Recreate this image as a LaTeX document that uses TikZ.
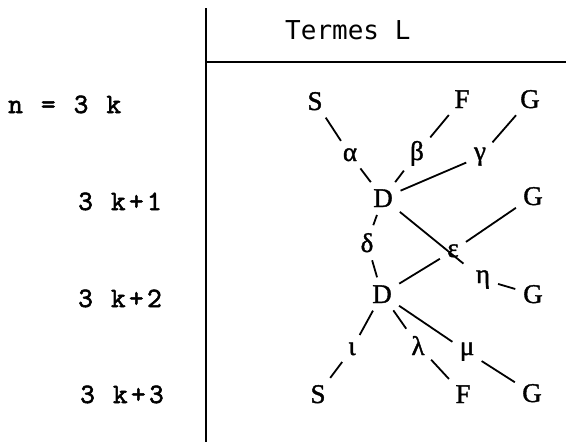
\documentclass[tikz,border=0pt]{standalone}
\usepackage{fontspec}
\setmainfont{Liberation Serif}
\newfontfamily\headfont{DejaVu Sans Mono}
\newfontfamily\labfont[LetterSpace=12,FakeBold=2]{lmmono10-regular.otf}
\begin{document}
\begin{tikzpicture}[x=1pt,y=-1pt,
  vtx/.style={font=\fontsize{27}{27}\selectfont\addfontfeature{FakeBold=1.4}, inner sep=3pt, anchor=base},
  gk/.style={font=\fontsize{27}{27}\selectfont\addfontfeature{FakeBold=1.4}, inner sep=3pt, anchor=base},
  rowlab/.style={font=\labfont\fontsize{28}{28}\selectfont, anchor=base west, inner sep=0pt},
  conn/.style={line width=1.8pt, shorten <=5pt, shorten >=5pt},
  rule/.style={line width=1.8pt}]
\useasboundingbox (0,0) rectangle (566,442);
% table rules
\coordinate (vtop) at (206,8);
\coordinate (vbot) at (206,442);
\coordinate (hl) at (206,62);
\coordinate (hr) at (566,62);
\draw[rule] (vtop) -- (vbot);
\draw[line width=1.4pt] (hl) -- (hr);
\node[font=\headfont\fontsize{26}{26}\selectfont, anchor=base west, inner sep=0pt] (head) at (285,39) {Termes L};
% row labels
\node[rowlab] (r0) at (8,113) {n = 3 k};
\node[rowlab] (r1) at (78,210) {3 k+1};
\node[rowlab] (r2) at (78,307) {3 k+2};
\node[rowlab] (r3) at (80,403) {3 k+3};
% vertices
\node[vtx] (S1) at (315,110) {S};
\node[vtx] (F1) at (462,108) {F};
\node[vtx] (G1) at (530,108) {G};
\node[vtx] (D1) at (383,207) {D};
\node[vtx] (G2) at (533,205) {G};
\node[vtx] (D2) at (382,303) {D};
\node[vtx] (G3) at (533,303) {G};
\node[vtx] (S2) at (318,403) {S};
\node[vtx] (F2) at (463,403) {F};
\node[vtx] (G4) at (532,402) {G};
% greek labels
\node[gk] (al) at (350,161) {α};
\node[gk] (be) at (417,160) {β};
\node[gk] (ga) at (480,160) {γ};
\node[gk] (de) at (367,252) {δ};
\node[gk] (ep) at (453,257) {ε};
\node[gk] (et) at (483,283) {η};
\node[gk] (io) at (352,355) {ι};
\node[gk] (la) at (418,355) {λ};
\node[gk] (mu) at (467,355) {μ};
% connectors
\draw[conn] (S1) -- (al);
\draw[conn] (al) -- (D1);
\draw[conn] (F1) -- (be);
\draw[conn] (be) -- (D1);
\draw[conn] (G1) -- (ga);
\draw[conn] (ga) -- (D1);
\draw[conn] (D1) -- (de);
\draw[conn] (de) -- (D2);
\draw[conn] (G2) -- (ep);
\draw[conn] (ep) -- (D2);
\draw[conn, shorten >=12pt] (D1) -- (et);
\draw[conn] (et) -- (G3);
\draw[conn] (D2) -- (io);
\draw[conn] (io) -- (S2);
\draw[conn] (D2) -- (la);
\draw[conn] (la) -- (F2);
\draw[conn] (D2) -- (mu);
\draw[conn] (mu) -- (G4);
\end{tikzpicture}
\end{document}
